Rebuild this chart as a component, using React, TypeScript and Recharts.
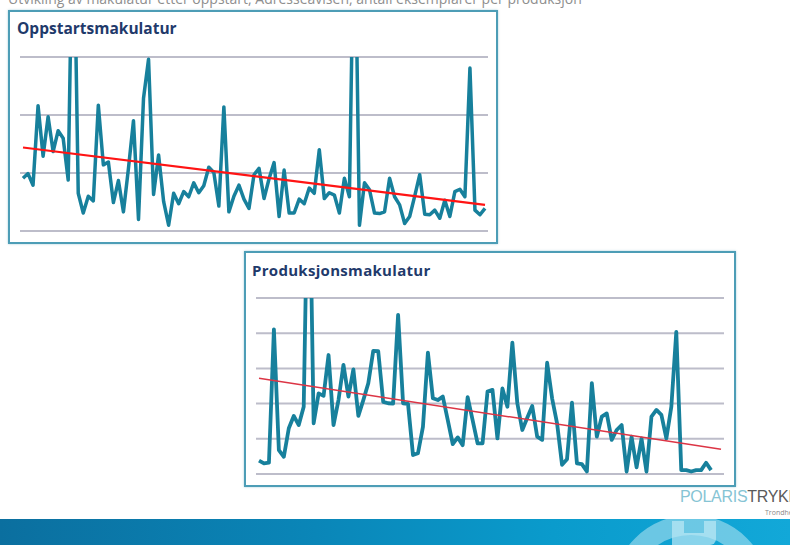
import React from 'react';
import { LineChart, Line, XAxis, YAxis, CartesianGrid } from 'recharts';

// values (grid units, top grid line = 3 resp. 5)
const startupWaste = [
  0.91, 0.99, 0.79, 2.16, 1.29, 1.97, 1.37, 1.73, 1.6, 0.88, 6,
  0.65, 0.31, 0.6, 0.52, 2.17, 1.14, 1.19, 0.49, 0.87, 0.33, 1.08, 1.9, 0.2, 2.29, 2.96,
  0.63, 1.31, 0.51, 0.1, 0.65,
  0.47, 0.68, 0.59, 0.83, 0.66, 0.78, 1.1, 1.01, 0.43, 2.14,
  0.33, 0.6, 0.79, 0.55, 0.39, 0.97, 1.08, 0.56, 0.9, 1.18, 0.25, 1.05, 0.31, 0.31, 0.55, 0.47, 0.74, 0.65, 1.4,
  0.56, 0.66, 0.62, 0.31, 0.91, 0.59, 6, 0.1, 0.83, 0.71, 0.31, 0.3, 0.33, 0.91, 0.59, 0.45, 0.13, 0.25,
  0.6, 0.97, 0.29, 0.28, 0.36, 0.22, 0.53, 0.25, 0.68, 0.72, 0.59, 2.81, 0.36, 0.28, 0.39,
];
const startupTrend = [1.44, 0.45];
const startupTicks = [0, 1, 2, 3];

const productionWaste = [
  0.38, 0.3, 0.32, 4.11, 0.68, 0.49, 1.3, 1.65, 1.39, 1.91, 10,
  1.44, 2.29, 2.22, 3.38, 1.39, 2.1, 3.1, 2.2, 2.97, 1.65, 2.1, 2.58, 3.5, 3.49, 2.05, 2.01, 2.0, 4.52, 2.01, 1.99,
  0.54, 0.59, 1.34, 3.45, 2.15, 2.1, 2.2, 1.53, 0.85, 1.04, 0.82, 2.18, 1.53, 0.87, 0.87, 2.34, 2.39, 1.01, 2.43, 1.91,
  3.73, 2.01, 1.25, 1.6, 1.93, 1.06, 0.97, 3.16, 2.15, 1.44, 0.26,
  0.42, 2.03, 0.3, 0.28, 0.07, 2.58, 1.06, 1.63, 1.72, 0.97, 1.25, 1.39, 0.07, 1.06, 0.19, 1.01,
  0.07, 1.63, 1.82, 1.68, 1.01, 1.91, 4.04, 0.11, 0.11, 0.07, 0.11, 0.11, 0.32, 0.11,
];
const productionTrend = [2.72, 0.7];
const productionExtra = 2; // trend runs a little past the last production
const productionTicks = [0, 1, 2, 3, 4, 5];

const buildRows = (values: number[], trend: number[], extra: number) => {
  const n = values.length + extra;
  return Array.from({ length: n }, (_, i) => ({
    i,
    v: i < values.length ? values[i] : null,
    trend: i === 0 ? trend[0] : i === n - 1 ? trend[1] : null,
  }));
};

const startupRows = buildRows(startupWaste, startupTrend, 0);
const productionRows = buildRows(productionWaste, productionTrend, productionExtra);

const FONT = '"Open Sans", "Liberation Sans", sans-serif';
const TEAL = '#17809c';
const BORDER = '#4d9db6';
const GRID = '#bdbdca';

const boxStyle = (left: number, top: number, width: number, height: number): React.CSSProperties => ({
  position: 'absolute',
  left,
  top,
  width,
  height,
  boxSizing: 'border-box',
  border: `2px solid ${BORDER}`,
  boxShadow: '0 0 2px rgba(77,157,182,0.5)',
  background: '#fff',
});

const titleStyle = (left: number, top: number): React.CSSProperties => ({
  position: 'absolute',
  left,
  top,
  fontFamily: FONT,
  fontWeight: 700,
  fontSize: 15.5,
  lineHeight: '16px',
  color: '#1f3a6b',
  whiteSpace: 'nowrap',
});

export default function App() {
  return (
    <div style={{ position: 'absolute', left: 0, top: 0, width: 790, height: 545, overflow: 'hidden', background: '#fff' }}>
      <div
        style={{
          position: 'absolute',
          left: 8,
          top: -8,
          fontFamily: FONT,
          fontSize: 14,
          lineHeight: '14px',
          color: '#8e8e8e',
          whiteSpace: 'nowrap',
        }}
      >
        Utvikling av makulatur etter oppstart, Adresseavisen, antall eksemplarer per produksjon
      </div>

      <div style={boxStyle(8, 10, 490, 234)}>
        <LineChart width={486} height={230} data={startupRows} margin={{ top: 45, right: 8, bottom: 11, left: 10 }}>
          <CartesianGrid vertical={false} stroke={GRID} strokeWidth={2} />
          <XAxis dataKey="i" hide padding={{ left: 3, right: 3 }} />
          <YAxis hide domain={[0, 3]} ticks={startupTicks} allowDataOverflow />
          <Line dataKey="v" stroke={TEAL} strokeWidth={3.5} dot={false} isAnimationActive={false} strokeLinejoin="round" />
          <Line dataKey="trend" stroke="#ff1414" strokeWidth={2.2} dot={false} connectNulls isAnimationActive={false} />
        </LineChart>
      </div>
      <div style={titleStyle(17, 20)}>Oppstartsmakulatur</div>

      <div style={boxStyle(244, 251, 492, 236)}>
        <LineChart width={488} height={232} data={productionRows} margin={{ top: 45, right: 10, bottom: 11, left: 10 }}>
          <CartesianGrid vertical={false} stroke={GRID} strokeWidth={2} />
          <XAxis dataKey="i" hide padding={{ left: 3, right: 3 }} />
          <YAxis hide domain={[0, 5]} ticks={productionTicks} allowDataOverflow />
          <Line dataKey="v" stroke={TEAL} strokeWidth={3.8} dot={false} isAnimationActive={false} strokeLinejoin="round" />
          <Line dataKey="trend" stroke="#dc3545" strokeWidth={1.5} dot={false} connectNulls isAnimationActive={false} />
        </LineChart>
      </div>
      <div style={{ ...titleStyle(252, 262), fontSize: 15, letterSpacing: 0.3 }}>Produksjonsmakulatur</div>

      <div
        style={{
          position: 'absolute',
          left: 680,
          top: 489,
          fontFamily: '"Liberation Sans Narrow", "Liberation Sans", sans-serif',
          fontSize: 16,
          lineHeight: '16px',
          whiteSpace: 'nowrap',
          letterSpacing: -0.3,
        }}
      >
        <span style={{ color: '#86c4d4' }}>POLARIS</span>
        <span style={{ color: '#5a5a5a' }}>TRYKK</span>
      </div>
      <div style={{ position: 'absolute', left: 765, top: 508, fontFamily: FONT, fontSize: 7, color: '#888' }}>Trondheim</div>

      <div
        style={{
          position: 'absolute',
          left: 0,
          top: 519,
          width: 790,
          height: 26,
          background: 'linear-gradient(90deg, #0b6f9f 0%, #0a86b8 40%, #0a9bcc 70%, #12a8d8 100%)',
          overflow: 'hidden',
        }}
      >
        <div
          style={{
            position: 'absolute',
            left: 612,
            top: -4,
            width: 158,
            height: 158,
            borderRadius: '50%',
            boxSizing: 'border-box',
            border: '20px solid rgba(170,225,240,0.6)',
          }}
        />
        <div
          style={{
            position: 'absolute',
            left: 672,
            top: 2,
            width: 44,
            height: 24,
            boxSizing: 'border-box',
            border: '12px solid rgba(190,232,245,0.7)',
            borderTop: 'none',
            borderRadius: '0 0 6px 0',
          }}
        />
      </div>
    </div>
  );
}
